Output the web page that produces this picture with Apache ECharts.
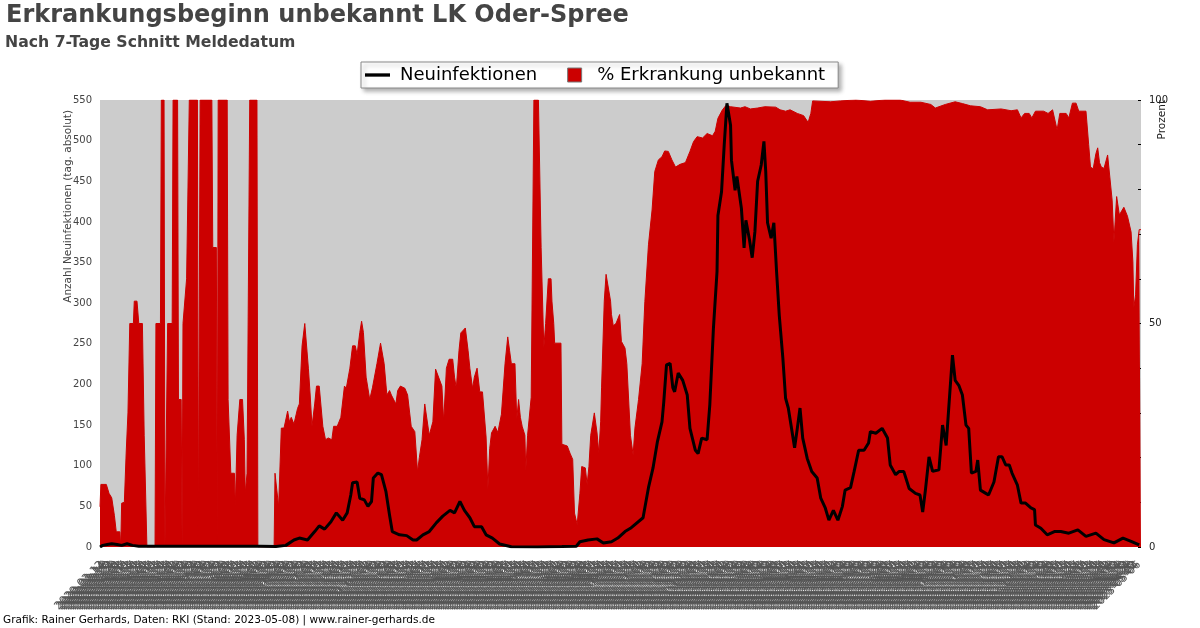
<!DOCTYPE html>
<html>
<head>
<meta charset="utf-8">
<script src="https://cdn.jsdelivr.net/npm/echarts@6/dist/echarts.min.js"></script>
<style>html,body{margin:0;padding:0;background:#fff}#chart{width:1200px;height:628px}</style>
</head>
<body>
<div id="chart"></div>
<script>
// ---- data ----
const startDate = '2020-03-10';
const endDate = '2023-05-08';
const titleText = 'Erkrankungsbeginn unbekannt LK Oder-Spree';
const subtitleText = 'Nach 7-Tage Schnitt Meldedatum';
const footerText = 'Grafik: Rainer Gerhards, Daten: RKI (Stand: 2023-05-08) | www.rainer-gerhards.de';
const seriesNames = ['Neuinfektionen', '% Erkrankung unbekannt'];
const leftTicks = [0, 550, 50];
const rightTicks = [0, 100, 10];

// [days since startDate, 7-day average of new infections]
const newInfections = [[0,0],[3,2],[8,3],[13,4],[19,3],[24,2],[30,4],[36,2],[43,1],[54,1],[77,1],[110,1],[143,1],[177,1],[195,0.5],[206,2],[215,8.6],[221,11],[230,8.6],[238,19],[243,26],[249,22],[256,31],[262,42],[269,33],[274,42],[278,64],[280,79],[285,80],[288,60],[293,58],[297,50],[301,56],[303,85],[308,91],[312,89],[317,68],[321,39],[324,19],[332,15],[340,14],[347,8.6],[351,8.6],[358,15],[365,19],[373,30],[380,38],[388,45],[390,45],[393,42],[399,56],[404,45],[410,36],[415,25],[423,25],[428,15],[435,11],[443,3.7],[456,0.4],[485,0],[512,0.5],[528,1],[532,6.5],[541,8.6],[551,10],[558,5],[567,6.5],[574,11],[582,19],[588,23],[602,36],[608,73],[613,97],[618,130],[623,154],[625,179],[628,224],[632,226],[635,196],[637,191],[641,214],[646,205],[651,187],[654,146],[660,119],[663,115],[667,134],[673,132],[676,175],[680,269],[684,339],[685,408],[689,437],[692,495],[695,546],[699,519],[700,476],[704,439],[706,456],[711,417],[714,368],[716,402],[720,378],[723,356],[726,388],[729,450],[733,470],[736,499],[738,462],[740,399],[744,380],[747,399],[750,339],[753,285],[757,232],[760,183],[763,171],[766,150],[770,122],[773,146],[776,171],[779,134],[784,109],[789,93],[795,85],[799,60],[804,48],[808,33],[813,45],[818,33],[823,50],[826,70],[832,73],[836,93],[841,119],[847,119],[852,128],[854,142],[860,140],[867,146],[873,134],[876,101],[882,89],[886,93],[891,93],[897,72],[904,66],[909,64],[912,43],[915,70],[919,111],[923,93],[930,95],[934,150],[936,152],[938,125],[941,173],[943,173],[945,236],[948,205],[952,199],[956,187],[960,150],[963,146],[966,91],[971,93],[973,107],[976,70],[982,66],[985,64],[991,80],[996,111],[1000,111],[1004,101],[1008,101],[1011,91],[1017,76],[1021,54],[1026,54],[1032,48],[1036,46],[1037,27],[1043,23],[1050,15],[1058,19],[1065,19],[1074,17],[1084,21],[1093,13],[1104,17],[1113,9],[1124,5],[1134,11],[1143,7],[1152,2.5]];

// [days since startDate, % with unknown onset of illness]
const pctUnknown = [[0,9],[1,14],[7,14],[10,12],[13,11],[16,7],[18,3.4],[22,3.4],[23,0],[24,9.8],[27,10],[29,21],[31,30],[33,50],[37,50],[38,55],[41,55],[43,50],[47,50],[49,25],[51,25],[52,0],[61,0],[62,50],[67,50],[68,100],[71,100],[72,0],[74,0],[75,50],[80,50],[81,100],[86,100],[87,33],[90,33],[91,0],[92,50],[94,50],[96,60],[98,60],[99,100],[108,100],[109,0],[110,0],[111,100],[124,100],[125,67],[129,67],[130,0],[131,100],[141,100],[142,33],[144,33],[145,16.5],[149,16.5],[150,9],[152,25],[155,33],[158,33],[160,24],[161,12],[163,16.5],[165,16.5],[166,100],[174,100],[175,0],[193,0],[194,16.5],[196,16.5],[198,9],[201,26.6],[204,26.6],[208,30.4],[210,28],[212,29],[215,27.5],[219,31],[221,32],[224,45],[227,50],[229,50],[231,40],[233,34],[235,27],[238,32],[240,36],[243,36],[247,27],[250,24],[253,24.4],[257,24],[259,27],[263,27],[267,29],[271,36],[273,35.5],[277,40],[280,45],[283,45],[285,43],[288,48],[290,50.5],[292,48],[295,38],[299,33],[302,35.6],[307,41],[311,45.6],[315,41],[318,34],[321,35],[323,34],[328,32],[330,35],[333,36],[338,35.5],[341,34],[345,27],[349,25.8],[352,16.8],[354,20],[357,24],[360,32],[362,32],[365,25],[369,28],[372,39.8],[374,39.8],[379,36],[381,28],[384,40],[387,42],[389,42],[391,42],[393,38],[395,35.5],[398,44],[400,47.9],[402,48],[405,49],[408,44],[410,40],[413,35.5],[415,38],[418,40],[421,34.7],[424,34.7],[428,24.6],[430,13],[432,22],[434,25.5],[438,27],[441,25.6],[445,29.7],[449,41],[452,47],[454,44],[456,41],[460,41],[462,28.5],[464,33],[466,29],[468,27],[471,25],[472,17],[474,25],[478,33.5],[480,33.5],[481,100],[486,100],[489,67],[491,67],[492,44.5],[494,50],[497,60],[500,60],[501,55],[503,50],[504,45.6],[511,45.6],[512,23],[518,22.6],[521,21],[524,19.6],[526,7.6],[529,5],[532,12],[534,18],[538,17.7],[540,14],[542,18],[544,25],[548,30],[551,25.5],[553,21],[555,28],[556,35.6],[559,55],[561,61],[563,61],[566,55],[567,52],[569,49.5],[572,50],[574,50],[576,52],[578,46],[582,44.5],[584,41],[588,25],[591,20.6],[593,26.6],[597,33],[601,41],[604,54.9],[608,67.6],[612,75.4],[615,84],[619,86.6],[623,87.3],[626,88.6],[630,88.5],[634,86.6],[638,85],[643,85.6],[649,86],[654,88.5],[658,90.7],[662,91.8],[668,91.5],[673,92.5],[679,92],[682,93],[685,95.9],[690,97.8],[694,98.8],[699,98.5],[710,98.2],[715,98.5],[721,98],[729,98.2],[737,98.5],[749,98.4],[754,97.8],[760,97.5],[765,97.8],[773,97],[780,96.5],[785,95],[788,97],[790,99.8],[810,99.6],[821,99.8],[838,100],[854,99.7],[870,100],[887,100],[898,99.5],[910,99.5],[921,99],[926,98.2],[937,99],[948,99.6],[956,99.2],[965,98.7],[976,98.5],[984,97.8],[999,98],[1010,97.6],[1017,97.8],[1021,96],[1025,97],[1030,97],[1033,96],[1037,97.5],[1046,97.5],[1051,97],[1056,97.8],[1061,93.3],[1064,97],[1071,97],[1074,96],[1078,99.3],[1082,99.3],[1085,97.5],[1093,97.5],[1096,90],[1098,85],[1101,84.6],[1104,88],[1106,89.3],[1108,86],[1110,85],[1113,84.7],[1117,87.7],[1119,87.7],[1122,77.6],[1124,68.3],[1127,78.4],[1130,74.3],[1132,74.3],[1135,76],[1137,76],[1139,74],[1143,70.5],[1145,63.8],[1146,53.5],[1148,56.4],[1150,67.6],[1152,71],[1154,71]];

// ---- build ----
function buildDates(a, b) {
  const out = [];
  let t = Date.parse(a + 'T00:00:00Z');
  const end = Date.parse(b + 'T00:00:00Z');
  while (t <= end) { out.push(new Date(t).toISOString().slice(0, 10)); t += 86400000; }
  return out;
}
const dates = buildDates(startDate, endDate);
const toSeries = arr => arr.map(p => [dates[p[0]], p[1]]);

const FONT = 'DejaVu Sans';
const RED = '#cc0000';
const chart = echarts.init(document.getElementById('chart'), null, {renderer: 'canvas'});
chart.setOption({
  animation: false,
  backgroundColor: '#ffffff',
  textStyle: {fontFamily: FONT},
  title: [
    {text: titleText, left: 6, top: 4, padding: 0,
     textStyle: {fontSize: 24, fontWeight: 'bold', color: '#444', fontFamily: FONT}},
    {text: subtitleText, left: 5, top: 35, padding: 0,
     textStyle: {fontSize: 15.7, fontWeight: 'bold', color: '#444', fontFamily: FONT}}
  ],
  legend: {
    left: 361, top: 62, padding: [4, 13, 4, 4], itemGap: 30,
    itemWidth: 25, itemHeight: 14,
    borderColor: '#888', borderWidth: 1, backgroundColor: '#fff',
    shadowColor: 'rgba(0,0,0,0.3)', shadowBlur: 4, shadowOffsetX: 3, shadowOffsetY: 3,
    textStyle: {fontSize: 18, color: '#000', fontFamily: FONT, padding: [0, 0, 0, 5]},
    data: [
      {name: seriesNames[0], icon: 'path://M0,0h30v4h-30z'},
      {name: seriesNames[1], icon: 'path://M0,0h10v10h-10z', itemStyle: {borderColor: '#777', borderWidth: 1}}
    ]
  },
  grid: {left: 100, right: 59, top: 100, bottom: 81, show: true, backgroundColor: '#cccccc', borderWidth: 0},
  xAxis: {
    type: 'category', data: dates, boundaryGap: false,
    axisLine: {show: false}, axisTick: {show: false}, splitLine: {show: false},
    axisLabel: {interval: 1, rotate: 45, fontSize: 11, color: '#555', margin: 16, fontFamily: FONT}
  },
  yAxis: [
    {type: 'value', position: 'left', min: leftTicks[0], max: leftTicks[1], interval: leftTicks[2],
     axisLabel: {fontSize: 10, color: '#444', fontFamily: FONT},
     splitLine: {show: false}, axisLine: {show: false}, axisTick: {show: false}},
    {type: 'value', position: 'right', min: rightTicks[0], max: rightTicks[1], interval: rightTicks[2],
     axisLabel: {fontSize: 10, color: '#222', fontFamily: FONT, formatter: v => (v % 50 === 0 ? String(v) : '')},
     axisTick: {show: true, inside: true, length: 3, lineStyle: {color: '#000'}},
     axisLine: {show: false}, splitLine: {show: false}}
  ],
  graphic: [
    {type: 'text', x: 68, y: 110, rotation: Math.PI / 2,
     style: {text: 'Anzahl Neuinfektionen (tag. absolut)', fontSize: 10.5, fontFamily: FONT, fill: '#444', align: 'right', verticalAlign: 'middle'}},
    {type: 'text', x: 1162, y: 100, rotation: Math.PI / 2,
     style: {text: 'Prozent', fontSize: 10.5, fontFamily: FONT, fill: '#222', align: 'right', verticalAlign: 'middle'}},
    {type: 'text', x: 3, y: 620,
     style: {text: footerText, fontSize: 10.5, fontFamily: FONT, fill: '#000', align: 'left', verticalAlign: 'middle'}}
  ],
  series: [
    {name: seriesNames[1], type: 'line', yAxisIndex: 1, data: toSeries(pctUnknown),
     symbol: 'none', lineStyle: {width: 1, color: RED}, itemStyle: {color: RED},
     areaStyle: {color: RED, opacity: 1}, z: 2},
    {name: seriesNames[0], type: 'line', yAxisIndex: 0, data: toSeries(newInfections),
     symbol: 'none', lineStyle: {width: 3, color: '#000'}, itemStyle: {color: '#000'}, z: 3}
  ]
});
</script>
</body>
</html>
